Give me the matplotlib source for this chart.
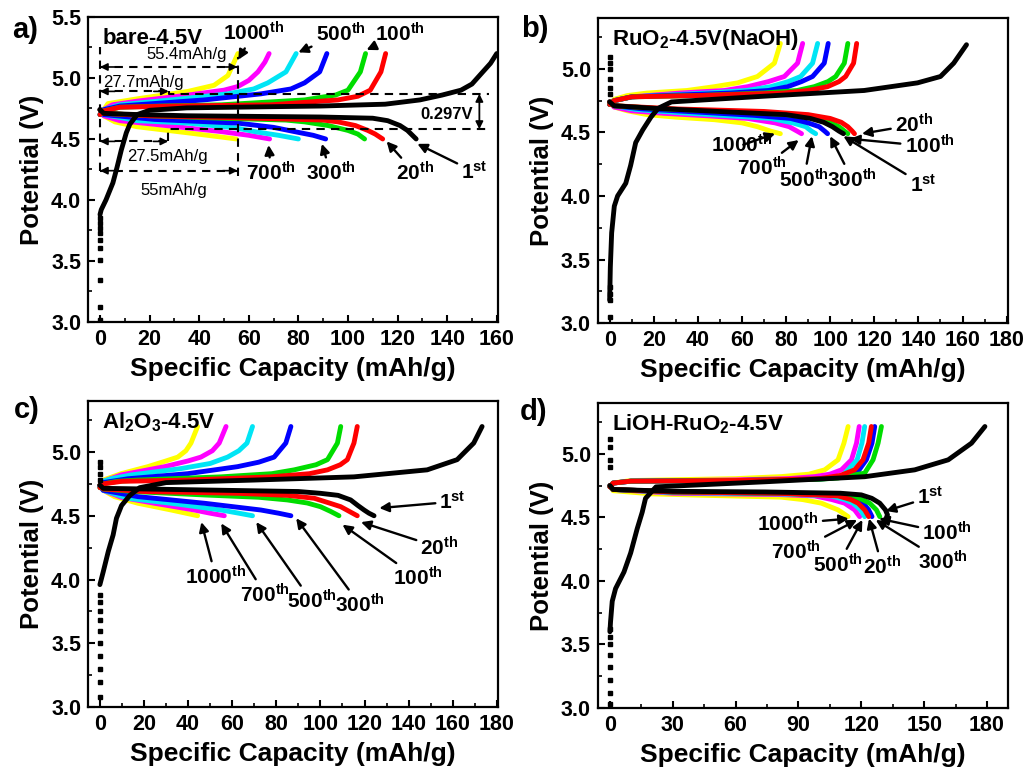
import matplotlib
matplotlib.use("Agg")
import matplotlib.pyplot as plt
from matplotlib.ticker import MultipleLocator

plt.rcParams["font.family"] = ["Liberation Sans", "DejaVu Sans"]
plt.rcParams["font.weight"] = "bold"
plt.rcParams["axes.labelweight"] = "bold"
plt.rcParams["mathtext.fontset"] = "custom"
plt.rcParams["mathtext.rm"] = "Liberation Sans:bold"
plt.rcParams["mathtext.bf"] = "Liberation Sans:bold"
plt.rcParams["mathtext.default"] = "bf"

CYCLES = ["1st", "20th", "100th", "300th", "500th", "700th", "1000th"]
COLORS = {"1st": "black", "20th": "#ff0000", "100th": "#00dd00", "300th": "#0000ff",
          "500th": "#00e5f5", "700th": "#ff00ff", "1000th": "#ffff00"}

# ---- a) bare-4.5V : (capacity mAh/g, potential V) ----
A_CHARGE = {
    "1st": ([0, 0.5, 2.4, 5.2, 6.9, 8.6, 10.6, 12, 15, 20, 35, 89, 115, 129, 138, 145.6, 150, 154.4, 157.5, 160],
            [3.88, 3.92, 4.0, 4.14, 4.27, 4.41, 4.55, 4.62, 4.70, 4.735, 4.755, 4.77, 4.785, 4.82, 4.86, 4.90, 4.95, 5.05, 5.12, 5.2]),
    "20th": ([0, 1.5, 8, 30, 69, 96, 104, 109, 113.3, 115.2], [4.70, 4.73, 4.76, 4.77, 4.78, 4.82, 4.85, 4.90, 5.05, 5.2]),
    "100th": ([0, 1.5, 8, 25, 49, 82.5, 95, 100, 105, 107.1], [4.70, 4.73, 4.76, 4.77, 4.78, 4.82, 4.86, 4.90, 5.05, 5.2]),
    "300th": ([0, 1.5, 8, 42, 65, 77, 82.5, 88.6, 91.5], [4.70, 4.74, 4.77, 4.82, 4.87, 4.91, 4.96, 5.05, 5.2]),
    "500th": ([0, 1.5, 8, 28.6, 51.6, 62, 67.7, 75, 79.1], [4.70, 4.74, 4.78, 4.82, 4.87, 4.91, 4.96, 5.05, 5.2]),
    "700th": ([0, 1.5, 5, 15, 35.5, 50, 55.6, 60, 63.7, 66.5, 68.2],
              [4.70, 4.74, 4.78, 4.81, 4.86, 4.90, 4.93, 4.98, 5.05, 5.13, 5.2]),
    "1000th": ([0, 1.5, 3.2, 15.3, 35.5, 46, 51.6, 54.3, 55.6], [4.70, 4.74, 4.79, 4.83, 4.89, 4.94, 5.02, 5.14, 5.2]),
}
A_DISCHARGE = {
    "1st": ([0, 1.5, 15, 35.5, 89, 110, 116, 121, 124, 126, 127.5],
            [4.74, 4.71, 4.70, 4.69, 4.68, 4.67, 4.65, 4.61, 4.57, 4.53, 4.5]),
    "20th": ([0, 1.5, 20, 62.4, 90, 96, 103, 108, 111, 114], [4.74, 4.71, 4.69, 4.67, 4.655, 4.64, 4.61, 4.57, 4.54, 4.5]),
    "100th": ([0, 1.5, 20, 49, 75, 82.5, 92, 100, 104, 106.7], [4.74, 4.71, 4.69, 4.67, 4.655, 4.64, 4.61, 4.57, 4.54, 4.5]),
    "300th": ([0, 1.5, 22, 55.6, 70, 78.5, 86, 91], [4.74, 4.70, 4.66, 4.63, 4.595, 4.56, 4.53, 4.5]),
    "500th": ([0, 1.5, 15, 35.5, 55, 62.4, 72, 80], [4.74, 4.70, 4.65, 4.63, 4.59, 4.56, 4.53, 4.5]),
    "700th": ([0, 1.5, 8, 22, 40, 49, 60, 68.4], [4.74, 4.69, 4.65, 4.62, 4.58, 4.56, 4.53, 4.5]),
    "1000th": ([0, 1.5, 6, 15, 35.5, 55], [4.74, 4.69, 4.64, 4.60, 4.55, 4.5]),
}
A_REST = [3.02, 3.12, 3.34, 3.51, 3.61, 3.67, 3.73, 3.77, 3.81, 3.85]
A_LABELS = [("1000th", (62, 5.37), (55.8, 5.15)), ("500th", (97, 5.36), (80, 5.21)),
            ("100th", (121, 5.36), (107.5, 5.23)), ("700th", (69, 4.22), (68, 4.45)),
            ("300th", (93, 4.22), (89.5, 4.46)), ("20th", (127, 4.22), (115.6, 4.48)),
            ("1st", (151, 4.23), (128, 4.46))]

# ---- b) RuO2-4.5V(NaOH) ----
B_CHARGE = {
    "1st": ([0, 0.3, 0.9, 2.1, 3.6, 7.3, 9.5, 11.8, 15, 18.7, 22, 28, 70, 115.4, 139.6, 150, 156, 161.8],
            [3.18, 3.44, 3.71, 3.92, 4.0, 4.1, 4.24, 4.42, 4.52, 4.62, 4.69, 4.74, 4.785, 4.83, 4.89, 4.94, 5.045, 5.19]),
    "20th": ([0, 2, 10, 40, 79, 90, 98.8, 104, 107, 110.6, 112], [4.72, 4.75, 4.78, 4.79, 4.81, 4.83, 4.86, 4.90, 4.94, 5.045, 5.2]),
    "100th": ([0, 2, 10, 40, 70, 85, 92.8, 99, 102.5, 106.4, 108], [4.72, 4.75, 4.78, 4.79, 4.81, 4.83, 4.86, 4.90, 4.94, 5.045, 5.2]),
    "300th": ([0, 2, 10, 55, 72, 80.7, 87, 92, 97.3, 99.1], [4.72, 4.75, 4.78, 4.81, 4.83, 4.86, 4.90, 4.94, 5.045, 5.2]),
    "500th": ([0, 2, 10, 44.4, 62, 73, 81, 86.6, 92, 94.3], [4.72, 4.75, 4.78, 4.81, 4.83, 4.86, 4.90, 4.94, 5.045, 5.2]),
    "700th": ([0, 2, 10, 32, 52, 62.6, 72, 79.2, 85.2, 87.5], [4.72, 4.75, 4.78, 4.81, 4.83, 4.86, 4.90, 4.94, 5.045, 5.2]),
    "1000th": ([0, 2, 8, 17, 35, 47.5, 58, 67, 74.7, 77.4], [4.72, 4.76, 4.79, 4.81, 4.83, 4.86, 4.89, 4.94, 5.045, 5.2]),
}
B_DISCHARGE = {
    "1st": ([0, 2, 20, 55, 80, 91, 97, 101, 104, 106], [4.74, 4.71, 4.69, 4.66, 4.64, 4.61, 4.58, 4.545, 4.51, 4.49]),
    "20th": ([0, 2, 30, 70, 90, 100, 105, 108, 110, 111], [4.74, 4.71, 4.685, 4.665, 4.64, 4.61, 4.58, 4.545, 4.51, 4.49]),
    "100th": ([0, 2, 25, 55, 80, 94.3, 100, 104, 106.5, 108], [4.74, 4.71, 4.685, 4.665, 4.64, 4.61, 4.58, 4.545, 4.51, 4.49]),
    "300th": ([0, 2, 15, 40, 65, 82, 90, 95, 97.5, 98.8], [4.74, 4.71, 4.685, 4.66, 4.635, 4.61, 4.575, 4.545, 4.51, 4.49]),
    "500th": ([0, 2, 12, 32, 55, 73, 83, 88.9, 91.5, 93.4], [4.74, 4.71, 4.68, 4.655, 4.63, 4.61, 4.575, 4.545, 4.51, 4.49]),
    "700th": ([0, 2, 10, 24.8, 45, 62.6, 75, 81.4, 85, 87], [4.74, 4.70, 4.67, 4.65, 4.63, 4.61, 4.575, 4.545, 4.51, 4.49]),
    "1000th": ([0, 2, 8, 17, 30, 47.5, 60, 67, 73, 77.4], [4.74, 4.70, 4.67, 4.64, 4.62, 4.60, 4.575, 4.545, 4.51, 4.49]),
}
B_REST = [3.05, 3.18, 3.23, 3.28, 4.8, 4.85, 4.92, 5.0, 5.05, 5.09]
B_LABELS = [("20th", (138, 4.56), (114.4, 4.49)), ("100th", (145, 4.39), (109, 4.45)),
            ("1st", (142, 4.09), (106, 4.47)), ("300th", (110, 4.13), (100, 4.47)),
            ("500th", (88, 4.13), (91.7, 4.47)), ("700th", (69, 4.22), (85.7, 4.44)),
            ("1000th", (60, 4.40), (75, 4.49))]

# ---- c) Al2O3-4.5V ----
C_CHARGE = {
    "1st": ([0, 1.5, 3.8, 6, 7.5, 9.8, 13.6, 18, 30, 70, 115.2, 148.4, 162, 169.5, 173.3],
            [3.96, 4.06, 4.22, 4.35, 4.48, 4.58, 4.66, 4.72, 4.76, 4.78, 4.805, 4.86, 4.94, 5.07, 5.2]),
    "20th": ([0, 1.5, 10, 39.8, 77.5, 95, 103.2, 109, 112.2, 115.2, 116.7],
             [4.72, 4.75, 4.77, 4.78, 4.805, 4.83, 4.86, 4.90, 4.94, 5.07, 5.2]),
    "100th": ([0, 1.5, 8, 17.2, 54.9, 78, 88.1, 98, 103.2, 107.7, 109.2],
              [4.72, 4.75, 4.77, 4.78, 4.805, 4.83, 4.86, 4.90, 4.94, 5.07, 5.2]),
    "300th": ([0, 1.5, 12.7, 39.8, 62.4, 72, 79, 84.3, 86.6], [4.73, 4.76, 4.79, 4.83, 4.885, 4.92, 4.96, 5.07, 5.2]),
    "500th": ([0, 1.5, 5, 14.2, 36.8, 50, 57.9, 63, 66.7, 69.2], [4.73, 4.77, 4.79, 4.82, 4.87, 4.91, 4.96, 5.01, 5.07, 5.2]),
    "700th": ([0, 1.5, 9.6, 29.3, 40, 45.8, 51, 54.1, 57.2], [4.73, 4.77, 4.82, 4.885, 4.93, 4.96, 5.01, 5.07, 5.2]),
    "1000th": ([0, 1.5, 9.6, 21.7, 30, 35.3, 39, 41.3, 44.3], [4.73, 4.78, 4.83, 4.885, 4.93, 4.96, 5.01, 5.07, 5.2]),
}
C_DISCHARGE = {
    "1st": ([0, 1.5, 20, 54.9, 90, 100, 108, 113.7, 117, 119.8, 122, 124.3],
            [4.74, 4.715, 4.71, 4.70, 4.69, 4.676, 4.66, 4.624, 4.58, 4.545, 4.52, 4.5]),
    "20th": ([0, 1.5, 20, 62.4, 85, 97.2, 104, 109.2, 113, 116.7], [4.74, 4.71, 4.69, 4.676, 4.66, 4.637, 4.60, 4.571, 4.535, 4.5]),
    "100th": ([0, 1.5, 15, 47.4, 72, 85, 94, 100, 104.5, 108.4], [4.74, 4.71, 4.69, 4.663, 4.645, 4.624, 4.60, 4.571, 4.535, 4.5]),
    "300th": ([0, 1.5, 17.2, 47.4, 73, 81, 86.6], [4.74, 4.70, 4.65, 4.598, 4.545, 4.52, 4.5]),
    "500th": ([0, 1.5, 12.7, 32.3, 54.9, 63, 69.2], [4.74, 4.70, 4.637, 4.598, 4.545, 4.52, 4.5]),
    "700th": ([0, 1.5, 9.6, 24.7, 42.8, 50, 56.4], [4.74, 4.70, 4.645, 4.598, 4.545, 4.52, 4.5]),
    "1000th": ([0, 1.5, 6.6, 17.2, 32.3, 39, 44.3], [4.74, 4.70, 4.65, 4.598, 4.545, 4.52, 4.5]),
}
C_REST = [3.08, 3.2, 3.3, 3.4, 3.5, 3.6, 3.68, 3.75, 3.82, 3.88, 4.78, 4.83, 4.88, 4.92]
C_LABELS = [("1st", (160, 4.61), (126.7, 4.56)), ("20th", (154, 4.25), (118.4, 4.45)),
            ("100th", (144, 4.01), (110, 4.43)), ("300th", (118, 3.80), (89, 4.48)),
            ("500th", (96, 3.83), (70.9, 4.45)), ("700th", (75, 3.88), (55, 4.44)),
            ("1000th", (52.5, 4.02), (46, 4.45))]

# ---- d) LiOH-RuO2-4.5V ----
D_CHARGE = {
    "1st": ([0, 0.3, 1.1, 2.7, 6.7, 9.9, 13, 15.4, 17, 22, 73.9, 121.6, 145.5, 161.5, 172.6, 179],
            [3.6, 3.68, 3.84, 3.94, 4.07, 4.22, 4.41, 4.54, 4.65, 4.74, 4.78, 4.82, 4.874, 4.953, 5.084, 5.215]),
    "20th": ([0, 1.5, 10, 60, 100, 110, 116.8, 120.8, 123.5, 124.8],
             [4.74, 4.77, 4.785, 4.79, 4.805, 4.83, 4.874, 4.953, 5.084, 5.215]),
    "100th": ([0, 1.5, 10, 60, 100, 108.9, 115, 121.6, 125.6, 128, 129.6],
              [4.74, 4.77, 4.785, 4.79, 4.80, 4.81, 4.83, 4.848, 4.953, 5.084, 5.215]),
    "300th": ([0, 1.5, 10, 60, 98, 105.7, 112, 118.4, 122.4, 125.1, 126.4],
              [4.74, 4.77, 4.785, 4.79, 4.80, 4.808, 4.83, 4.861, 4.953, 5.084, 5.215]),
    "500th": ([0, 1.5, 10, 60, 95, 105.7, 111, 113.7, 118, 120.3, 121.6],
              [4.74, 4.77, 4.785, 4.79, 4.80, 4.808, 4.83, 4.874, 4.953, 5.084, 5.215]),
    "700th": ([0, 1.5, 10, 60, 85, 97.8, 105, 110.5, 115.3, 117.7, 119],
              [4.74, 4.77, 4.785, 4.795, 4.805, 4.821, 4.84, 4.874, 4.953, 5.084, 5.215]),
    "1000th": ([0, 1.5, 10, 26, 60, 81.8, 95, 102.5, 108.9, 111.7, 113.7],
               [4.74, 4.77, 4.79, 4.795, 4.805, 4.821, 4.84, 4.874, 4.953, 5.084, 5.215]),
}
D_DISCHARGE = {
    "1st": ([0, 1.5, 30, 73.9, 110, 120, 125, 128.8, 131.5, 132.5, 132],
            [4.75, 4.72, 4.705, 4.70, 4.69, 4.677, 4.65, 4.612, 4.559, 4.52, 4.5]),
    "20th": ([0, 1.5, 30, 80, 108.9, 115, 118.4, 121.6, 123.5], [4.75, 4.72, 4.70, 4.69, 4.669, 4.64, 4.612, 4.559, 4.506]),
    "100th": ([0, 1.5, 30, 80, 115.3, 120.5, 124, 127.2, 128.8], [4.75, 4.72, 4.70, 4.69, 4.677, 4.64, 4.612, 4.559, 4.506]),
    "300th": ([0, 1.5, 30, 80, 112, 117, 120.8, 123.5, 125.1], [4.75, 4.72, 4.70, 4.69, 4.677, 4.64, 4.612, 4.559, 4.506]),
    "500th": ([0, 1.5, 30, 80, 105.7, 112, 116, 119.7, 121.6], [4.75, 4.72, 4.695, 4.685, 4.669, 4.64, 4.612, 4.559, 4.506]),
    "700th": ([0, 1.5, 30, 80, 97.7, 106, 112, 116.8, 119.2], [4.75, 4.72, 4.69, 4.68, 4.669, 4.64, 4.612, 4.559, 4.506]),
    "1000th": ([0, 1.5, 20, 42, 81.8, 92, 100.9, 108.9, 113.7], [4.75, 4.71, 4.685, 4.675, 4.659, 4.64, 4.612, 4.559, 4.506]),
}
D_REST = [3.03, 3.12, 3.22, 3.32, 3.42, 3.5, 3.56, 3.62, 4.9, 4.95, 5.05, 5.12]
D_LABELS = [("1st", (153, 4.66), (131.7, 4.55)), ("100th", (161, 4.375), (128.5, 4.49)),
            ("300th", (159, 4.15), (126.9, 4.48)), ("20th", (130, 4.11), (123.7, 4.49)),
            ("500th", (109, 4.13), (120.5, 4.48)), ("700th", (89, 4.23), (118, 4.48)),
            ("1000th", (85, 4.45), (114, 4.49))]


def sup(label):
    num = label.rstrip("sthnd")
    return num + r"$^{\mathbf{" + label[len(num):] + "}}$"


def draw_panel(ax, charge, discharge, rest, labels, title, xlim, ylim, xstep, ystep=0.5):
    for cyc in reversed(CYCLES):
        for q, v in (charge[cyc], discharge[cyc]):
            ax.plot(q, v, color=COLORS[cyc], lw=3.5, solid_capstyle="round", zorder=3)
    ax.plot([0] * len(rest), rest, "ks", ms=2.8, zorder=4)
    for text, pos, tip in labels:
        ax.annotate(sup(text), xy=tip, xytext=pos, ha="center", va="center", fontsize=15,
                    arrowprops=dict(arrowstyle="-|>", color="k", lw=1.7, mutation_scale=14,
                                    shrinkA=1, shrinkB=0))
    ax.text(0.035, 0.93, title, transform=ax.transAxes, fontsize=16, va="center", ha="left")
    ax.set_xlim(*xlim)
    ax.set_ylim(*ylim)
    ax.xaxis.set_major_locator(MultipleLocator(xstep))
    ax.xaxis.set_minor_locator(MultipleLocator(xstep / 2))
    ax.yaxis.set_major_locator(MultipleLocator(ystep))
    ax.yaxis.set_minor_locator(MultipleLocator(ystep / 2))
    ax.tick_params(which="both", direction="in", top=False, right=False, labelsize=15.5, pad=5)
    ax.tick_params(which="major", length=5, width=1.5)
    ax.tick_params(which="minor", length=3, width=1.2)
    for s in ax.spines.values():
        s.set_linewidth(1.6)
    ax.set_xlabel("Specific Capacity (mAh/g)", fontsize=19, labelpad=5)
    ax.set_ylabel("Potential (V)", fontsize=18.5, labelpad=5)


def dim_arrow(ax, x0, x1, y):
    ax.plot([x0, x1], [y, y], "k--", lw=1.5, dashes=(4, 3), zorder=5)
    head = dict(arrowstyle="-|>", color="k", lw=1.2, mutation_scale=11, shrinkA=0, shrinkB=0)
    ax.annotate("", xy=(x0, y), xytext=(x0 + 6, y), arrowprops=head)
    ax.annotate("", xy=(x1, y), xytext=(x1 - 6, y), arrowprops=head)


fig = plt.figure(figsize=(10.28, 7.71), dpi=100)
ax_a = fig.add_axes([0.0856, 0.5824, 0.3988, 0.3956])
ax_b = fig.add_axes([0.5817, 0.5810, 0.3988, 0.3956])
ax_c = fig.add_axes([0.0856, 0.0830, 0.3988, 0.3969])
ax_d = fig.add_axes([0.5817, 0.0817, 0.3988, 0.3956])

draw_panel(ax_a, A_CHARGE, A_DISCHARGE, A_REST, A_LABELS, "bare-4.5V", (-4.84, 160.5), (3.0, 5.5), 20)
draw_panel(ax_b, B_CHARGE, B_DISCHARGE, B_REST, B_LABELS, r"RuO$_\mathbf{2}$-4.5V(NaOH)", (-5.3, 180.6), (3.0, 5.4), 20)
draw_panel(ax_c, C_CHARGE, C_DISCHARGE, C_REST, C_LABELS, r"Al$_\mathbf{2}$O$_\mathbf{3}$-4.5V", (-5.4, 180.5), (3.0, 5.4), 20)
draw_panel(ax_d, D_CHARGE, D_DISCHARGE, D_REST, D_LABELS, r"LiOH-RuO$_\mathbf{2}$-4.5V", (-5.7, 190), (3.0, 5.4), 30)

# capacity / polarization guides in panel a
ax_a.plot([0, 0], [4.24, 5.25], "k--", lw=1.5, dashes=(4, 3), zorder=5)
ax_a.plot([55.5, 55.5], [4.2, 5.17], "k--", lw=1.5, dashes=(4, 3), zorder=5)
dim_arrow(ax_a, 0, 55.4, 5.09)
dim_arrow(ax_a, 0, 27.7, 4.89)
dim_arrow(ax_a, 0, 27.5, 4.48)
dim_arrow(ax_a, 0, 55.5, 4.24)
ax_a.plot([27.7, 27.7, 157], [4.89, 4.87, 4.87], "k--", lw=1.5, dashes=(4, 3), zorder=5)
ax_a.plot([27.5, 27.5, 156], [4.48, 4.58, 4.58], "k--", lw=1.5, dashes=(4, 3), zorder=5)
ax_a.annotate("", xy=(153, 4.87), xytext=(153, 4.58),
              arrowprops=dict(arrowstyle="<|-|>", color="k", lw=1.3, mutation_scale=11, shrinkA=0, shrinkB=0))
ax_a.text(35, 5.19, "55.4mAh/g", fontsize=12, fontweight="normal", ha="center", va="center")
ax_a.text(1.2, 4.96, "27.7mAh/g", fontsize=12, fontweight="normal", ha="left", va="center")
ax_a.text(27, 4.36, "27.5mAh/g", fontsize=12, fontweight="normal", ha="center", va="center")
ax_a.text(29.6, 4.08, "55mAh/g", fontsize=12, fontweight="normal", ha="center", va="center")
ax_a.text(140, 4.70, "0.297V", fontsize=12, ha="center", va="center")

for lab, x, y in [("a)", 25, 30), ("b)", 535, 29), ("c)", 27, 410), ("d)", 534, 412)]:
    fig.text(x / 1028, 1 - y / 771, lab, fontsize=21, ha="center", va="center")

fig.savefig("out.png", dpi=100)
